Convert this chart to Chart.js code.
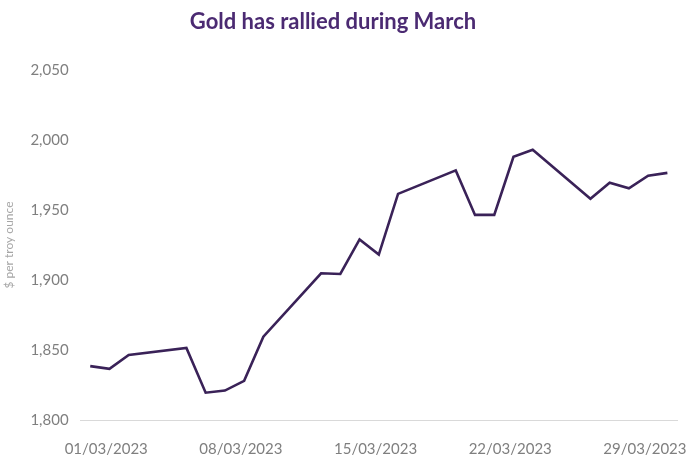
<!DOCTYPE html>
<html lang="en">
<head>
<meta charset="utf-8">
<script src="https://cdn.jsdelivr.net/npm/chart.js@4/dist/chart.umd.min.js"></script>
<style>
  html, body { margin: 0; padding: 0; background: #fff; }
  #wrap { width: 699px; height: 456px; }
</style>
</head>
<body>
<div id="wrap"><canvas id="goldChart"></canvas></div>
<script>
// Trading days in March 2023 and the gold price ($/oz)
const dates = [
  "01/03/2023", "02/03/2023", "03/03/2023", "06/03/2023", "07/03/2023",
  "08/03/2023", "09/03/2023", "10/03/2023", "13/03/2023", "14/03/2023",
  "15/03/2023", "16/03/2023", "17/03/2023", "20/03/2023", "21/03/2023",
  "22/03/2023", "23/03/2023", "24/03/2023", "27/03/2023", "28/03/2023",
  "29/03/2023", "30/03/2023", "31/03/2023"
];
const prices = [
  1838.5, 1836.5, 1846.5, 1851.5, 1819.5,
  1821, 1828, 1859.5, 1904.8, 1904.3,
  1929, 1918.2, 1961.5, 1978.3, 1946.5,
  1946.5, 1988, 1993, 1958, 1969.5,
  1965.5, 1974.5, 1976.5
];
const xTickLabels = ["01/03/2023", "08/03/2023", "15/03/2023", "22/03/2023", "29/03/2023"];
const yTicks = [1800, 1850, 1900, 1950, 2000, 2050];

const dayOf = s => parseInt(s.slice(0, 2), 10);
const points = dates.map((d, i) => ({ x: dayOf(d), y: prices[i] }));

// draw the title ourselves so it sits where the original has it
const titlePlugin = {
  id: "chartTitle",
  afterDraw(chart) {
    const ctx = chart.ctx;
    ctx.save();
    ctx.font = "bold 22px Lato";
    ctx.fillStyle = "#4b2a72";
    ctx.textAlign = "center";
    ctx.textBaseline = "middle";
    ctx.fillText("Gold has rallied during March", 333, 22);
    ctx.restore();
  }
};

const ctx = document.getElementById("goldChart").getContext("2d");
new Chart(ctx, {
  type: "line",
  data: {
    datasets: [{
      label: "Gold price",
      data: points,
      borderColor: "#3a2258",
      borderWidth: 2.6,
      pointRadius: 0,
      tension: 0,
      fill: false
    }]
  },
  options: {
    responsive: true,
    maintainAspectRatio: false,
    animation: false,
    layout: { padding: { top: 70, right: 22, left: 2, bottom: -22 } },
    plugins: {
      legend: { display: false },
      tooltip: { enabled: false }
    },
    scales: {
      x: {
        type: "linear",
        min: 0.5,
        max: 31.5,
        afterBuildTicks(axis) {
          axis.ticks = xTickLabels.map(l => ({ value: dayOf(l) }));
        },
        grid: { display: false, drawTicks: false },
        border: { display: true, color: "#d9d9d9", width: 1 },
        ticks: {
          autoSkip: false,
          maxRotation: 0,
          padding: 20,
          labelOffset: 16,
          color: "#7f7f7f",
          font: { family: "Lato", size: 15 },
          callback: v => xTickLabels.find(l => dayOf(l) === v) || ""
        }
      },
      y: {
        min: yTicks[0],
        max: yTicks[yTicks.length - 1],
        afterBuildTicks(axis) {
          axis.ticks = yTicks.map(v => ({ value: v }));
        },
        grid: { display: false, drawTicks: false },
        border: { display: false },
        title: {
          display: true,
          text: "$ per troy ounce",
          color: "#a6a6a6",
          font: { family: "Lato", size: 12 },
          padding: { top: 0, bottom: 2 }
        },
        ticks: {
          padding: 12,
          color: "#7f7f7f",
          font: { family: "Lato", size: 15 },
          callback: v => v.toLocaleString("en-US")
        }
      }
    }
  },
  plugins: [titlePlugin]
});
</script>
</body>
</html>
